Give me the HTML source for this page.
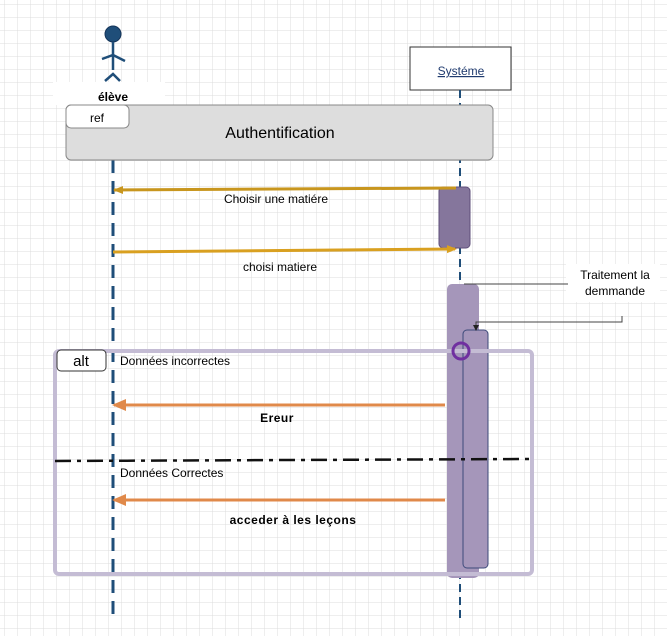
<!DOCTYPE html>
<html><head><meta charset="utf-8"><style>
html,body{margin:0;padding:0;background:#fff}
svg{display:block;font-family:"Liberation Sans",sans-serif}
</style></head><body>
<svg width="667" height="636" viewBox="0 0 667 636" xmlns="http://www.w3.org/2000/svg">
<defs>
<pattern id="g" width="13" height="13" patternUnits="userSpaceOnUse" x="5" y="5">
<path d="M13 0V13M0 13H13" stroke="#dcdcdc" stroke-width="1" fill="none"/>
</pattern>
<marker id="ag" markerWidth="10" markerHeight="10" refX="9" refY="5" orient="auto" markerUnits="userSpaceOnUse"><path d="M0 1L10 5L0 9Z" fill="#c8961e"/></marker>
<marker id="ag2" markerWidth="10" markerHeight="10" refX="8" refY="5" orient="auto" markerUnits="userSpaceOnUse"><path d="M0 1L10 5L0 9Z" fill="#d9a020"/></marker>
<marker id="ao" markerWidth="14" markerHeight="12" refX="12" refY="6" orient="auto" markerUnits="userSpaceOnUse"><path d="M0 0L14 6L0 12Z" fill="#e0894a"/></marker>
</defs>
<rect width="667" height="636" fill="url(#g)"/>
<!-- actor -->
<circle cx="113" cy="34" r="8" fill="#1f4e79" stroke="#15355a"/>
<path d="M113 42V70M102 59L113 55L125 61M105 81L113 74L120 81" stroke="#1f4e79" stroke-width="2.5" fill="none"/>
<rect x="53" y="82" width="112" height="23" fill="#fff"/>
<text x="113" y="101" font-size="12" font-weight="bold" text-anchor="middle">élève</text>
<!-- system -->
<rect x="410" y="47" width="101" height="43" fill="#fff" stroke="#333"/>
<text x="461" y="75" font-size="12" text-anchor="middle" fill="#1f3a6e" text-decoration="underline">Systéme</text>
<!-- lifelines -->
<line x1="113" y1="160" x2="113" y2="622" stroke="#1f4e79" stroke-width="3" stroke-dasharray="13,8"/>
<line x1="460" y1="90" x2="460" y2="622" stroke="#1f4e79" stroke-width="2" stroke-dasharray="8,5"/>
<!-- ref -->
<rect x="66" y="105" width="427" height="55" rx="5" fill="#dddddd" stroke="#888"/>
<rect x="66" y="105" width="63" height="23" rx="5" fill="#fff" stroke="#888"/>
<text x="97" y="122" font-size="12" text-anchor="middle">ref</text>
<text x="280" y="138" font-size="16" text-anchor="middle">Authentification</text>
<!-- activation 1 -->
<rect x="439" y="187" width="31" height="61" rx="4" fill="#85769c" stroke="#5e4f7a"/>
<line x1="456" y1="188" x2="114" y2="190" stroke="#c8961e" stroke-width="3" marker-end="url(#ag)"/>
<text x="276" y="203" font-size="12" text-anchor="middle">Choisir une matiére</text>
<line x1="113" y1="252" x2="455" y2="249" stroke="#d9a020" stroke-width="3" marker-end="url(#ag2)"/>
<text x="280" y="271" font-size="12" text-anchor="middle">choisi matiere</text>
<!-- big activation -->
<rect x="447" y="284" width="32" height="294" rx="5" fill="#a596ba"/>
<rect x="463" y="330" width="25" height="238" rx="4" fill="#a596ba" stroke="#3d4a7a"/>
<!-- callout -->
<rect x="566" y="264" width="94" height="38" fill="#fff"/>
<text x="615" y="279" font-size="12" text-anchor="middle">Traitement la</text>
<text x="615" y="295" font-size="12" text-anchor="middle">demmande</text>
<path d="M464 284H568M622 316V322H476V328" stroke="#444" fill="none"/>
<path d="M473 325L479 325L476 331Z" fill="#222"/>
<!-- alt frame -->
<rect x="55" y="351" width="477" height="223" rx="4" fill="none" stroke="#c4bcd4" stroke-width="4"/>
<rect x="57" y="350" width="49" height="21" rx="4" fill="#fff" stroke="#333"/>
<text x="81" y="366" font-size="15" text-anchor="middle">alt</text>
<circle cx="461" cy="351" r="8" fill="none" stroke="#7030a0" stroke-width="3"/>
<text x="120" y="365" font-size="12">Données incorrectes</text>
<line x1="445" y1="405" x2="114" y2="405" stroke="#e0894a" stroke-width="3" marker-end="url(#ao)"/>
<text x="277" y="422" font-size="12" font-weight="bold" text-anchor="middle" letter-spacing="0.5">Ereur</text>
<line x1="55" y1="461" x2="530" y2="459" stroke="#111" stroke-width="2.5" stroke-dasharray="16,6,4,6"/>
<text x="120" y="477" font-size="12">Données Correctes</text>
<line x1="445" y1="500" x2="114" y2="500" stroke="#e0894a" stroke-width="3" marker-end="url(#ao)"/>
<text x="293" y="524" font-size="12" font-weight="bold" text-anchor="middle" letter-spacing="0.5">acceder à les leçons</text>
</svg>
</body></html>
